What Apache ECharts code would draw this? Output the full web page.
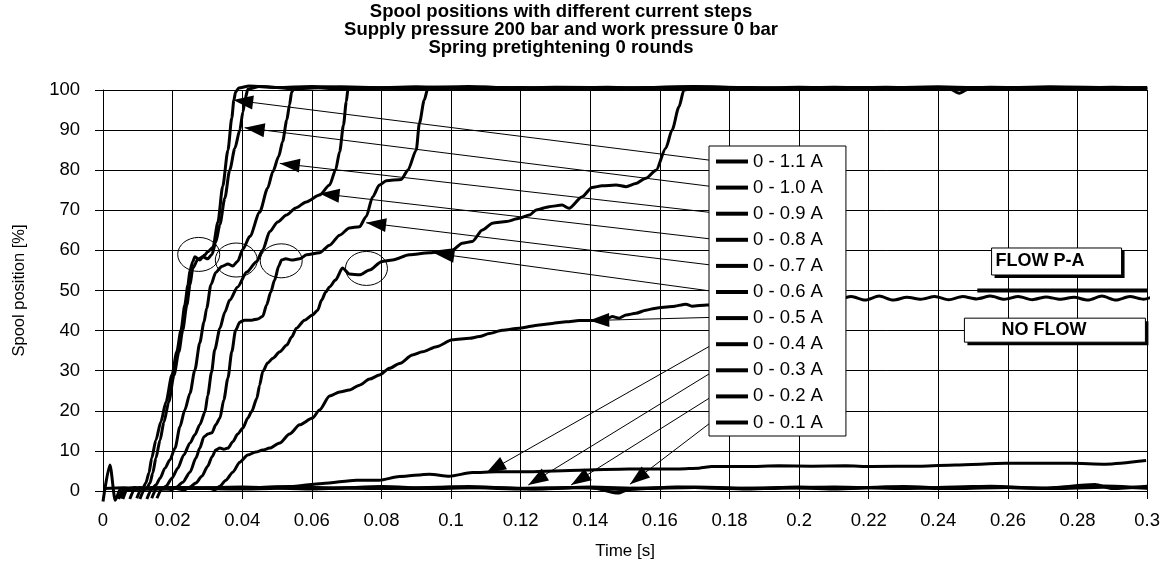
<!DOCTYPE html>
<html>
<head>
<meta charset="utf-8">
<script src="https://cdn.jsdelivr.net/npm/echarts@6/dist/echarts.min.js"></script>
<style>
  html, body { margin: 0; padding: 0; background: #fff; }
  #chart { width: 1163px; height: 565px; }
</style>
</head>
<body>
<div id="chart"></div>
<script>
// Spool position [%] over time [s] for current steps 0 - 0.1 A ... 0 - 1.1 A
const seriesNames = ['0 - 1.1 A', '0 - 1.0 A', '0 - 0.9 A', '0 - 0.8 A', '0 - 0.7 A', '0 - 0.6 A',
  '0 - 0.5 A', '0 - 0.4 A', '0 - 0.3 A', '0 - 0.2 A', '0 - 0.1 A'];

const step11 = [[0.0057,-2.0],[0.0072,0.6],[0.009,0.9],[0.0105,0.7],[0.0115,0.8],[0.0123,2.0],[0.0132,4.5],[0.014,8.2],[0.0152,12.7],[0.0166,17.2],[0.0181,22.2],[0.0198,28.9],[0.0212,34.7],[0.0224,40.1],[0.0235,46.4],[0.0244,51.4],[0.025,55.1],[0.0258,57.2],[0.0264,58.4],[0.0278,57.6],[0.0293,58.9],[0.0301,59.7],[0.0316,60.8],[0.033,67.0],[0.0344,76.0],[0.0359,85.0],[0.037,93.0],[0.0376,97.5],[0.0381,99.5],[0.039,100.5],[0.042,101.0],[0.05,100.6],[0.06,100.9],[0.075,100.4],[0.09,100.8],[0.11,100.3],[0.13,100.7],[0.15,100.5],[0.17,100.9],[0.19,100.4],[0.21,100.7],[0.23,100.3],[0.25,100.6],[0.27,100.4],[0.29,100.7],[0.3,100.5]];
const step10 = [[0.0077,-2.0],[0.0092,0.5],[0.0105,0.9],[0.0118,0.7],[0.0126,0.8],[0.0135,2.0],[0.0143,4.5],[0.0152,8.2],[0.0164,12.7],[0.0175,17.2],[0.0189,22.2],[0.0204,28.9],[0.0218,34.7],[0.0229,40.1],[0.0241,46.4],[0.025,51.4],[0.0258,55.6],[0.0273,57.8],[0.0287,58.4],[0.0301,57.9],[0.0313,59.0],[0.0324,62.0],[0.0336,66.5],[0.035,73.0],[0.0364,80.0],[0.0379,85.5],[0.0393,90.0],[0.0402,94.5],[0.0409,98.0],[0.0416,100.2],[0.045,100.9],[0.055,100.3],[0.068,100.8],[0.085,100.5],[0.1,100.1],[0.12,100.6],[0.14,100.2],[0.16,100.6],[0.18,100.3],[0.2,100.7],[0.22,100.4],[0.24,100.8],[0.26,100.3],[0.28,100.6],[0.3,100.2]];
const step09 = [[0.0097,-1.8],[0.0112,0.6],[0.013,0.8],[0.0141,0.6],[0.0152,1.5],[0.0164,3.2],[0.0178,5.7],[0.0192,7.7],[0.0207,10.7],[0.0221,16.0],[0.0235,20.2],[0.025,24.4],[0.0264,30.2],[0.0278,36.9],[0.029,42.1],[0.0298,45.6],[0.031,51.4],[0.0324,54.5],[0.0341,56.0],[0.0359,56.6],[0.0373,56.1],[0.0387,57.3],[0.0402,60.3],[0.0422,63.5],[0.045,69.5],[0.0473,75.5],[0.0488,79.6],[0.0505,83.5],[0.0516,87.1],[0.0528,92.5],[0.0536,96.3],[0.0542,99.5],[0.0551,100.6],[0.058,100.7],[0.07,100.2],[0.09,100.6],[0.105,100.9],[0.125,100.3],[0.145,100.7],[0.165,100.2],[0.185,100.6],[0.205,100.3],[0.225,100.7],[0.243,100.4],[0.246,99.2],[0.249,100.4],[0.275,100.6],[0.3,100.4]];
const step08 = [[0.0106,-2.0],[0.0121,0.5],[0.014,0.9],[0.0158,0.7],[0.0169,0.6],[0.0181,1.2],[0.0198,3.2],[0.0215,5.7],[0.0232,9.0],[0.025,12.0],[0.0264,14.0],[0.0278,16.5],[0.0293,19.7],[0.0301,23.9],[0.0312,29.7],[0.0321,35.2],[0.0336,40.6],[0.035,44.6],[0.0364,47.6],[0.0387,50.9],[0.0413,54.6],[0.0441,57.2],[0.0459,60.1],[0.0479,64.7],[0.0502,67.1],[0.0527,68.8],[0.0554,70.6],[0.0584,72.1],[0.0622,73.8],[0.0651,76.3],[0.0668,80.0],[0.068,84.6],[0.0691,91.3],[0.0699,97.1],[0.0704,100.3],[0.074,100.6],[0.09,100.3],[0.11,100.7],[0.13,100.2],[0.15,100.5],[0.17,100.8],[0.195,100.4],[0.215,100.6],[0.235,100.2],[0.255,100.7],[0.28,100.3],[0.3,100.6]];
const step07 = [[0.0126,-2.0],[0.0141,0.5],[0.016,0.8],[0.0185,0.5],[0.0198,0.3],[0.0212,1.0],[0.0229,2.2],[0.025,4.7],[0.0267,8.2],[0.0278,10.7],[0.029,13.5],[0.0301,14.2],[0.0313,14.5],[0.0324,16.5],[0.0336,18.2],[0.0347,22.7],[0.0359,28.2],[0.037,34.7],[0.0381,40.1],[0.0393,42.1],[0.0407,42.6],[0.0427,42.6],[0.0445,42.9],[0.0459,43.6],[0.047,46.4],[0.0482,49.6],[0.0493,52.6],[0.0505,56.1],[0.0513,57.6],[0.0525,57.9],[0.0542,57.6],[0.0565,57.9],[0.0585,58.9],[0.0622,59.4],[0.0651,61.3],[0.068,63.8],[0.0708,65.6],[0.0737,65.9],[0.0756,68.4],[0.0775,73.4],[0.0794,76.3],[0.0814,77.4],[0.0857,77.7],[0.0876,80.0],[0.09,85.0],[0.0909,91.7],[0.0923,97.5],[0.0933,100.3],[0.097,100.6],[0.115,100.2],[0.135,100.6],[0.155,100.3],[0.175,100.7],[0.2,100.2],[0.225,100.6],[0.25,100.3],[0.272,100.8],[0.3,100.3]];
const step06 = [[0.014,-1.8],[0.0155,0.6],[0.018,0.9],[0.021,0.6],[0.0235,0.3],[0.025,1.0],[0.0267,2.0],[0.0284,3.7],[0.0301,6.2],[0.0313,8.5],[0.0324,10.2],[0.0336,10.7],[0.0347,10.4],[0.0359,10.7],[0.0373,12.3],[0.0387,14.2],[0.0402,15.7],[0.0416,18.2],[0.0427,19.8],[0.0442,23.1],[0.045,26.4],[0.0459,29.8],[0.0473,31.9],[0.0488,33.1],[0.0508,34.7],[0.0528,36.4],[0.0542,38.4],[0.0556,40.6],[0.0579,42.6],[0.0602,43.9],[0.0617,45.1],[0.0628,47.6],[0.064,49.6],[0.0651,50.9],[0.0668,52.6],[0.0688,55.6],[0.0708,54.1],[0.0737,53.9],[0.0766,55.1],[0.08,57.2],[0.0832,57.6],[0.088,58.9],[0.0938,59.4],[0.0967,59.7],[0.1004,60.1],[0.1032,61.8],[0.1061,62.2],[0.109,65.1],[0.1119,66.8],[0.1159,67.2],[0.1196,68.0],[0.1225,68.8],[0.1245,70.1],[0.1282,70.9],[0.1319,71.3],[0.1339,70.5],[0.1377,73.4],[0.1405,75.7],[0.1434,76.1],[0.1474,76.3],[0.1503,75.9],[0.1531,76.7],[0.156,78.0],[0.1589,80.0],[0.1617,85.5],[0.1635,90.0],[0.1655,95.8],[0.1669,100.0],[0.17,100.5],[0.19,100.2],[0.21,100.6],[0.23,100.3],[0.26,100.6],[0.28,100.2],[0.3,100.5]];
const step05 = [[0.0155,-1.8],[0.017,0.5],[0.022,0.9],[0.027,0.6],[0.0305,0.8],[0.0321,0.3],[0.0336,1.2],[0.0353,2.7],[0.0373,4.7],[0.0393,7.2],[0.0416,9.0],[0.0439,9.7],[0.0459,10.2],[0.0479,10.7],[0.0508,12.0],[0.0536,14.2],[0.0565,16.5],[0.0602,18.2],[0.0622,20.2],[0.0651,23.7],[0.068,24.7],[0.0708,25.2],[0.0737,26.4],[0.0766,27.9],[0.0794,28.9],[0.0823,30.6],[0.0852,31.8],[0.0889,33.9],[0.0918,34.7],[0.0958,36.0],[0.1004,37.7],[0.1053,38.1],[0.1081,38.5],[0.111,39.3],[0.1147,40.1],[0.1196,40.6],[0.1253,41.4],[0.1291,41.8],[0.1331,42.2],[0.1368,42.5],[0.1405,42.5],[0.1445,42.8],[0.1463,43.5],[0.1483,43.1],[0.1503,43.9],[0.1531,44.3],[0.156,45.1],[0.1589,45.6],[0.1635,46.0],[0.1675,46.6],[0.1692,46.1],[0.1735,46.4],[0.1798,46.9],[0.1884,47.3],[0.1999,47.6],[0.2114,47.9],[0.215,48.5],[0.219,47.6],[0.223,48.6],[0.227,47.6],[0.231,48.3],[0.235,47.8],[0.239,48.5],[0.243,47.7],[0.247,48.5],[0.251,47.9],[0.255,48.6],[0.259,47.8],[0.263,48.5],[0.267,47.7],[0.271,48.4],[0.275,47.8],[0.279,48.3],[0.283,47.6],[0.287,48.6],[0.291,47.6],[0.295,48.5],[0.299,47.8],[0.3015,48.4]];
const step04 = [[0.0,0.6],[0.006,0.8],[0.015,0.5],[0.025,0.8],[0.0344,0.7],[0.0445,0.9],[0.0536,1.1],[0.0631,1.9],[0.0728,2.7],[0.0794,2.7],[0.0852,3.6],[0.0938,4.2],[0.0995,3.7],[0.1061,4.6],[0.113,4.8],[0.1225,4.8],[0.1368,5.2],[0.1511,5.5],[0.1655,5.5],[0.1712,5.7],[0.1749,6.1],[0.1847,6.1],[0.1942,6.3],[0.2036,6.2],[0.2134,6.3],[0.2208,6.1],[0.2352,6.2],[0.2449,6.5],[0.2593,6.9],[0.2782,6.9],[0.288,6.7],[0.2997,7.6]];
const step03 = [[0.0045,-2.0],[0.006,0.5],[0.02,0.9],[0.035,0.6],[0.05,1.0],[0.065,0.7],[0.08,1.1],[0.095,0.6],[0.11,0.9],[0.125,0.5],[0.14,1.0],[0.155,0.6],[0.17,0.9],[0.185,0.5],[0.2,1.0],[0.215,0.7],[0.23,1.1],[0.245,0.6],[0.26,0.9],[0.275,0.6],[0.29,1.0],[0.3,0.7]];
const step02 = [[0.005,-1.8],[0.0065,0.4],[0.02,0.6],[0.04,1.0],[0.06,0.5],[0.075,0.9],[0.09,0.6],[0.105,1.1],[0.12,0.7],[0.135,0.9],[0.15,0.4],[0.165,1.0],[0.18,0.6],[0.195,0.9],[0.21,0.5],[0.225,1.0],[0.24,0.6],[0.255,1.2],[0.27,0.7],[0.285,1.3],[0.3,0.8]];
const step01 = [[0.0,-2.6],[0.002,6.5],[0.0035,-2.3],[0.005,0.5],[0.02,0.8],[0.04,0.5],[0.06,0.9],[0.08,0.6],[0.1,1.0],[0.12,0.5],[0.14,0.9],[0.148,-0.5],[0.152,0.7],[0.17,1.0],[0.19,0.6],[0.21,1.0],[0.23,0.6],[0.25,1.1],[0.27,0.7],[0.285,1.6],[0.29,0.6],[0.3,1.2]];

const stepSeries = [step11, step10, step09, step08, step07, step06, step05, step04, step03, step02, step01];

// Arrows: from each legend entry to its curve [time, position]
const arrowTails = [[0.1752,82.4],[0.1752,75.9],[0.1752,69.4],[0.1752,62.8],[0.1752,56.3],[0.1752,49.8],
  [0.1752,43.3],[0.1757,36.8],[0.1762,30.3],[0.1752,23.7],[0.1748,17.2]];
const arrowTips = [[0.0374,97.5],[0.0407,90.6],[0.0508,81.7],[0.0622,74.2],[0.0756,66.9],[0.0952,59.3],
  [0.1397,42.5],[0.1101,4.5],[0.1222,1.5],[0.1345,1.5],[0.1514,1.7]];

// Circled plateaus [time, position]
const circleCentres = [[0.0275,59.0],[0.0383,57.6],[0.0512,57.4],[0.0757,55.5]];

// Flow boxes: top-left anchor [time, position]
const boxLabels = ['FLOW P-A', 'NO FLOW'];
const boxAnchors = [[0.2553,60.6],[0.2475,43.1]];
// Flow P-A marker at 50 %
const flowMarker = [[0.2512,50],[0.3,50]];

const xTicks = { min: 0, max: 0.3, interval: 0.02 };
const yTicks = { min: 0, max: 100, interval: 10 };

const FONT = "'Liberation Sans', Arial, sans-serif";
const boxSizes = { 'FLOW P-A': { w: 130, h: 27, pad: 4 }, 'NO FLOW': { w: 181, h: 24, pad: 37 } };

const chart = echarts.init(document.getElementById('chart'), null, { renderer: 'canvas' });

const lineSeries = seriesNames.map((name, i) => ({
  name: name,
  type: 'line',
  data: stepSeries[i],
  showSymbol: false,
  symbol: 'none',
  clip: false,
  smooth: 0.25,
  smoothMonotone: 'x',
  lineStyle: { color: '#000', width: 3 },
  itemStyle: { color: '#000' },
  z: 3,
  markLine: {
    silent: true,
    symbol: ['none', 'triangle'],
    symbolSize: [14, 20],
    symbolOffset: [[0, 0], [0, 10]],
    label: { show: false },
    lineStyle: { color: '#000', width: 1, type: 'solid' },
    emphasis: { disabled: true },
    data: [[{ coord: arrowTails[i] }, { coord: arrowTips[i] }]]
  }
}));

const option = {
  animation: false,
  color: ['#000'],
  title: {
    text: 'Spool positions with different current steps\nSupply pressure 200 bar and work pressure 0 bar\nSpring pretightening 0 rounds',
    left: 561,
    top: 3,
    padding: 0,
    textAlign: 'center',
    textStyle: { fontFamily: FONT, fontSize: 18.5, fontWeight: 'bold', color: '#000', lineHeight: 18 }
  },
  grid: { left: 103, right: 14, top: 90, bottom: 74, containLabel: false },
  legend: {
    data: seriesNames,
    orient: 'vertical',
    left: 709,
    top: 146,
    icon: 'rect',
    itemWidth: 32,
    itemHeight: 4,
    itemGap: 7.1,
    padding: [6, 23, 4, 7],
    backgroundColor: '#fff',
    borderColor: '#000',
    borderWidth: 1,
    selectedMode: false,
    z: 10,
    textStyle: { fontFamily: FONT, fontSize: 18.5, color: '#000', lineHeight: 18 }
  },
  xAxis: {
    type: 'value',
    min: xTicks.min, max: xTicks.max, interval: xTicks.interval,
    name: 'Time [s]',
    nameLocation: 'middle',
    nameGap: 52,
    nameTextStyle: { fontFamily: FONT, fontSize: 17, color: '#000' },
    axisLine: { show: true, onZero: false, lineStyle: { color: '#000', width: 1 } },
    axisTick: { show: true, length: 8, lineStyle: { color: '#000' } },
    axisLabel: { fontFamily: FONT, fontSize: 18.5, color: '#000', margin: 20 },
    splitLine: { show: true, lineStyle: { color: '#000', width: 1 } }
  },
  yAxis: {
    type: 'value',
    min: yTicks.min, max: yTicks.max, interval: yTicks.interval,
    name: 'Spool position [%]',
    nameLocation: 'middle',
    nameGap: 75,
    nameRotate: 90,
    nameTextStyle: { fontFamily: FONT, fontSize: 16.5, color: '#000' },
    axisLine: { show: true, lineStyle: { color: '#000', width: 1 } },
    axisTick: { show: true, length: 8, lineStyle: { color: '#000' } },
    axisLabel: { fontFamily: FONT, fontSize: 18.5, color: '#000', margin: 23 },
    splitLine: { show: true, lineStyle: { color: '#000', width: 1 } }
  },
  series: lineSeries.concat([
    {
      name: 'flow marker',
      type: 'line',
      data: flowMarker,
      showSymbol: false,
      symbol: 'none',
      clip: false,
      lineStyle: { color: '#000', width: 4 },
      z: 3
    },
    {
      name: 'circles',
      type: 'custom',
      data: circleCentres,
      clip: false,
      silent: true,
      z: 4,
      renderItem: function (params, api) {
        const c = api.coord([api.value(0), api.value(1)]);
        return {
          type: 'ellipse',
          shape: { cx: c[0], cy: c[1], rx: 21, ry: 17 },
          style: { fill: 'none', stroke: '#000', lineWidth: 1 }
        };
      }
    },
    {
      name: 'flow boxes',
      type: 'custom',
      data: boxAnchors,
      clip: false,
      silent: true,
      z: 6,
      renderItem: function (params, api) {
        const p = api.coord([api.value(0), api.value(1)]);
        const label = boxLabels[params.dataIndex];
        const s = boxSizes[label];
        return {
          type: 'group',
          children: [
            { type: 'rect', shape: { x: p[0] + 3, y: p[1] + 3, width: s.w, height: s.h }, style: { fill: '#000' } },
            { type: 'rect', shape: { x: p[0], y: p[1], width: s.w, height: s.h }, style: { fill: '#fff', stroke: '#000', lineWidth: 1 } },
            { type: 'text', style: { text: label, x: p[0] + s.pad, y: p[1] + s.h / 2, verticalAlign: 'middle', align: 'left',
              font: "bold 18px 'Liberation Sans', Arial, sans-serif", fill: '#000' } }
          ]
        };
      }
    }
  ])
};

chart.setOption(option);
</script>
</body>
</html>
